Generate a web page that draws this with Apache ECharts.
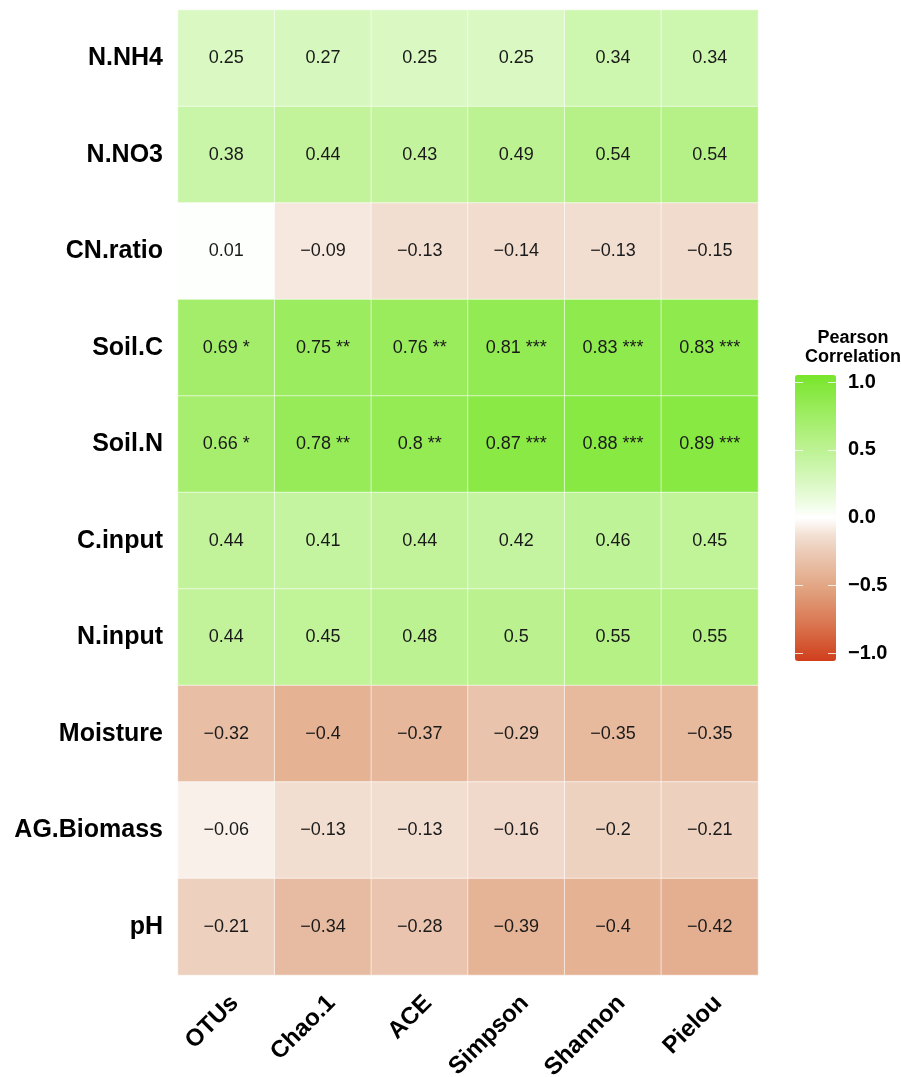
<!DOCTYPE html>
<html>
<head>
<meta charset="utf-8">
<script src="https://cdn.jsdelivr.net/npm/echarts@6/dist/echarts.min.js"></script>
<style>
  html, body { margin: 0; padding: 0; background: #ffffff; }
  #chart { width: 901px; height: 1077px; }
</style>
</head>
<body>
<div id="chart"></div>
<script>
// Environmental variables (rows, top to bottom) and diversity indices (columns)
const variables = ['N.NH4', 'N.NO3', 'CN.ratio', 'Soil.C', 'Soil.N', 'C.input', 'N.input', 'Moisture', 'AG.Biomass', 'pH'];
const indices = ['OTUs', 'Chao.1', 'ACE', 'Simpson', 'Shannon', 'Pielou'];

// Pearson r for each variable against OTUs, Chao.1, ACE, Simpson, Shannon, Pielou
const rNNH4      = [0.25, 0.27, 0.25, 0.25, 0.34, 0.34];
const rNNO3      = [0.38, 0.44, 0.43, 0.49, 0.54, 0.54];
const rCNratio   = [0.01, -0.09, -0.13, -0.14, -0.13, -0.15];
const rSoilC     = [0.69, 0.75, 0.76, 0.81, 0.83, 0.83];
const rSoilN     = [0.66, 0.78, 0.8, 0.87, 0.88, 0.89];
const rCinput    = [0.44, 0.41, 0.44, 0.42, 0.46, 0.45];
const rNinput    = [0.44, 0.45, 0.48, 0.5, 0.55, 0.55];
const rMoisture  = [-0.32, -0.4, -0.37, -0.29, -0.35, -0.35];
const rAGBiomass = [-0.06, -0.13, -0.13, -0.16, -0.2, -0.21];
const rPH        = [-0.21, -0.34, -0.28, -0.39, -0.4, -0.42];

// Significance marks
const sigSoilC = ['*', '**', '**', '***', '***', '***'];
const sigSoilN = ['*', '**', '**', '***', '***', '***'];

// Colour bar breaks
const legendBreaks = [-1, -0.5, 0, 0.5, 1];

const rows = [rNNH4, rNNO3, rCNratio, rSoilC, rSoilN, rCinput, rNinput, rMoisture, rAGBiomass, rPH];
const sigByRow = { 'Soil.C': sigSoilC, 'Soil.N': sigSoilN };

const heatData = [];
rows.forEach((vals, yi) => {
  vals.forEach((v, xi) => {
    const sig = sigByRow[variables[yi]] ? sigByRow[variables[yi]][xi] : '';
    heatData.push({ value: [xi, yi, v], sig: sig });
  });
});

const fmtNum = v => String(v).replace('-', '\u2212');

// Diverging palette, evenly spaced from -1 to 1 (steps of 0.125)
const gradient = [
  '#d03e1c', '#d45a35', '#d9744f', '#dd8c67', '#e1a27f', '#e6b699', '#ebc9b4', '#f2dfd2',
  '#ffffff',
  '#ebfcdf', '#d9f8c2', '#c9f5a8', '#bbf28f', '#abef76', '#9bec5e', '#89e944', '#78e52b'
];

const FONT = '"Liberation Sans", Arial, Helvetica, sans-serif';
const chart = echarts.init(document.getElementById('chart'), null, { renderer: 'canvas' });

// Colour bar scale: one axis for the break labels, two for the white tick marks on each edge
const tickStyle = { show: true, length: 8, lineStyle: { color: 'rgba(255,255,255,0.8)', width: 1 } };
const legendAxis = (extra) => Object.assign({
  type: 'value', gridIndex: 1, min: -1, max: 1, interval: 0.5, z: 10,
  axisLine: { show: false }, splitLine: { show: false }
}, extra);

chart.setOption({
  backgroundColor: '#ffffff',
  animation: false,
  textStyle: { fontFamily: FONT },
  title: {
    text: 'Pearson\nCorrelation', left: 848, top: 324, textAlign: 'center',
    textStyle: { fontFamily: FONT, fontSize: 18, fontWeight: 'bold', color: '#000', lineHeight: 19 }
  },
  grid: [
    { left: 178, top: 10, width: 580, height: 965, outerBoundsMode: 'none', containLabel: false },
    { left: 795, top: 382, width: 41, height: 271, outerBoundsMode: 'none', containLabel: false }
  ],
  xAxis: [
    {
      type: 'category', data: indices, gridIndex: 0, position: 'bottom',
      axisLine: { show: false }, axisTick: { show: false }, splitLine: { show: false },
      axisLabel: {
        interval: 0, rotate: 45, align: 'right', verticalAlign: 'top', margin: 16,
        fontFamily: FONT, fontSize: 24, fontWeight: 'bold', color: '#000'
      }
    },
    { type: 'value', gridIndex: 1, show: false, min: 0, max: 1 }
  ],
  yAxis: [
    {
      type: 'category', data: variables, gridIndex: 0, inverse: true,
      axisLine: { show: false }, axisTick: { show: false }, splitLine: { show: false },
      axisLabel: { margin: 15, fontFamily: FONT, fontSize: 25, fontWeight: 'bold', color: '#000' }
    },
    legendAxis({
      position: 'right', axisTick: { show: false },
      axisLabel: {
        margin: 12, fontFamily: FONT, fontSize: 20, fontWeight: 'bold', color: '#000',
        formatter: v => legendBreaks.indexOf(v) >= 0 ? v.toFixed(1).replace('-', '\u2212') : ''
      }
    }),
    legendAxis({ position: 'right', offset: -8, axisTick: tickStyle, axisLabel: { show: false } }),
    legendAxis({ position: 'left', offset: -8, axisTick: tickStyle, axisLabel: { show: false } })
  ],
  visualMap: {
    type: 'continuous', min: -1, max: 1, seriesIndex: 0, dimension: 2,
    orient: 'vertical', left: 795, top: 375, itemWidth: 41, itemHeight: 286,
    calculable: false, showLabel: false, text: null, padding: 0, hoverLink: false,
    inRange: { color: gradient }
  },
  series: [{
    type: 'heatmap', xAxisIndex: 0, yAxisIndex: 0,
    data: heatData,
    itemStyle: { borderColor: 'rgba(255,255,255,0.6)', borderWidth: 1 },
    label: {
      show: true, fontFamily: FONT, fontSize: 18, color: '#1a1a1a',
      formatter: p => fmtNum(p.data.value[2]) + (p.data.sig ? ' ' + p.data.sig : '')
    },
    emphasis: { disabled: true }
  }]
});
</script>
</body>
</html>
